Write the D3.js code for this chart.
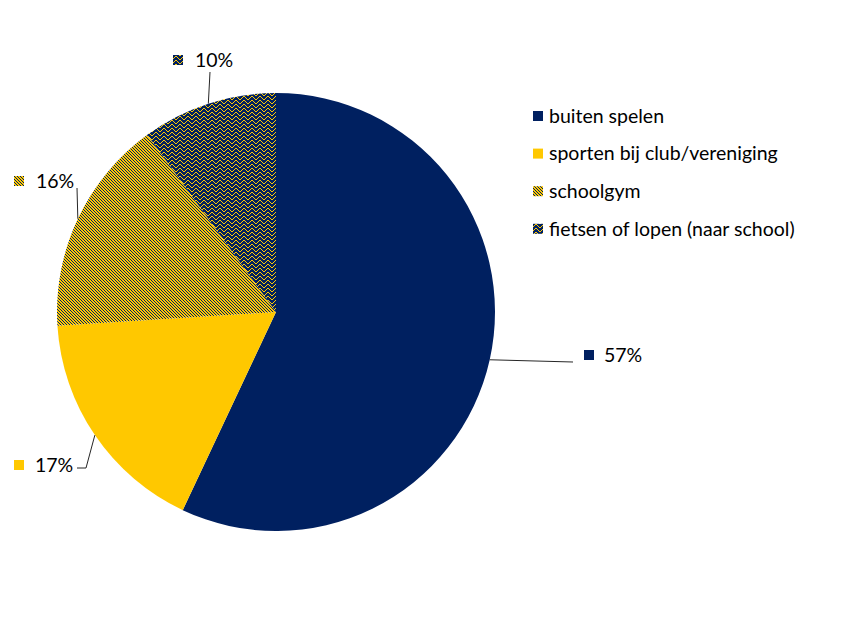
<!DOCTYPE html>
<html><head><meta charset="utf-8">
<script src="https://cdn.jsdelivr.net/npm/d3@7"></script>
<style>body{margin:0;background:#fff}svg{display:block}text{font-family:Lato,"Open Sans",sans-serif;font-size:19.5px;fill:#000}</style>
</head><body>
<svg id="c" width="847" height="623"></svg>
<script>
const categories = ["buiten spelen","sporten bij club/vereniging","schoolgym","fietsen of lopen (naar school)"];
const values = [57,17,16,10];
const labels = ["57%","17%","16%","10%"];

const W=847,H=623,cx=276,cy=312,R=219;
const svg=d3.select("#c");
const defs=svg.append("defs");
const blue="#002060", yellow="#FFC800";

// diagonal stripes pattern (downward diagonal)
const P=3;
const p1=defs.append("pattern").attr("id","diag").attr("patternUnits","userSpaceOnUse").attr("width",P).attr("height",P);
p1.append("rect").attr("width",P).attr("height",P).attr("fill",yellow);
for(let r=0;r<P;r++){p1.append("rect").attr("x",r).attr("y",r).attr("width",1).attr("height",1).attr("fill",blue).attr("shape-rendering","crispEdges");}
// zigzag pattern
const p2=defs.append("pattern").attr("id","zig").attr("patternUnits","userSpaceOnUse").attr("width",8).attr("height",4);
p2.append("rect").attr("width",8).attr("height",4).attr("fill",blue);
const zz=["10000001","01000010","00100100","00011000"];
zz.forEach((row,r)=>{for(let c=0;c<8;c++){if(row[c]==="1")p2.append("rect").attr("x",c).attr("y",r).attr("width",1).attr("height",1).attr("fill",yellow).attr("shape-rendering","crispEdges");}});

const fills=[blue,yellow,"url(#diag)","url(#zig)"];
const color=d3.scaleOrdinal().domain(categories).range(fills);

const pie=d3.pie().sort(null).value(d=>d.v);
const data=categories.map((c,i)=>({c,v:values[i],l:labels[i]}));
const arcs=pie(data);
const arc=d3.arc().innerRadius(0).outerRadius(R);
const g=svg.append("g").attr("transform",`translate(${cx},${cy})`);
g.selectAll("path").data(arcs).enter().append("path").attr("d",arc).attr("fill",d=>color(d.data.c));

// data labels: leader lines start on the arc edge at the slice's mid angle
const labelLayout=[
  {tx:604,ty:355,mx:584,pts:[[573,362]]},
  {tx:35,ty:465,mx:14,pts:[[86,468],[77,468]]},
  {tx:36,ty:181,mx:14,pts:[[77,188]]},
  {tx:195,ty:60,mx:173,pts:[[210,72]]}
];
arcs.forEach((a,i)=>{
  const m=(a.startAngle+a.endAngle)/2;
  const sx=cx+R*Math.sin(m), sy=cy-R*Math.cos(m);
  const L=labelLayout[i];
  const line=d3.line();
  svg.append("path").attr("d",line([[sx,sy],...L.pts])).attr("fill","none").attr("stroke","#262626").attr("stroke-width",1);
  svg.append("rect").attr("x",L.mx).attr("y",L.ty-5).attr("width",10).attr("height",10).attr("fill",color(a.data.c));
  svg.append("text").attr("x",L.tx).attr("y",L.ty).attr("dy","0.35em").text(a.data.l);
});

// legend
const lg=svg.append("g");
categories.forEach((c,i)=>{
  const y=116+i*37.6;
  lg.append("rect").attr("x",533).attr("y",y-5).attr("width",10).attr("height",10).attr("fill",color(c));
  lg.append("text").attr("x",549).attr("y",y).attr("dy","0.35em").text(c);
});
</script>
</body></html>
